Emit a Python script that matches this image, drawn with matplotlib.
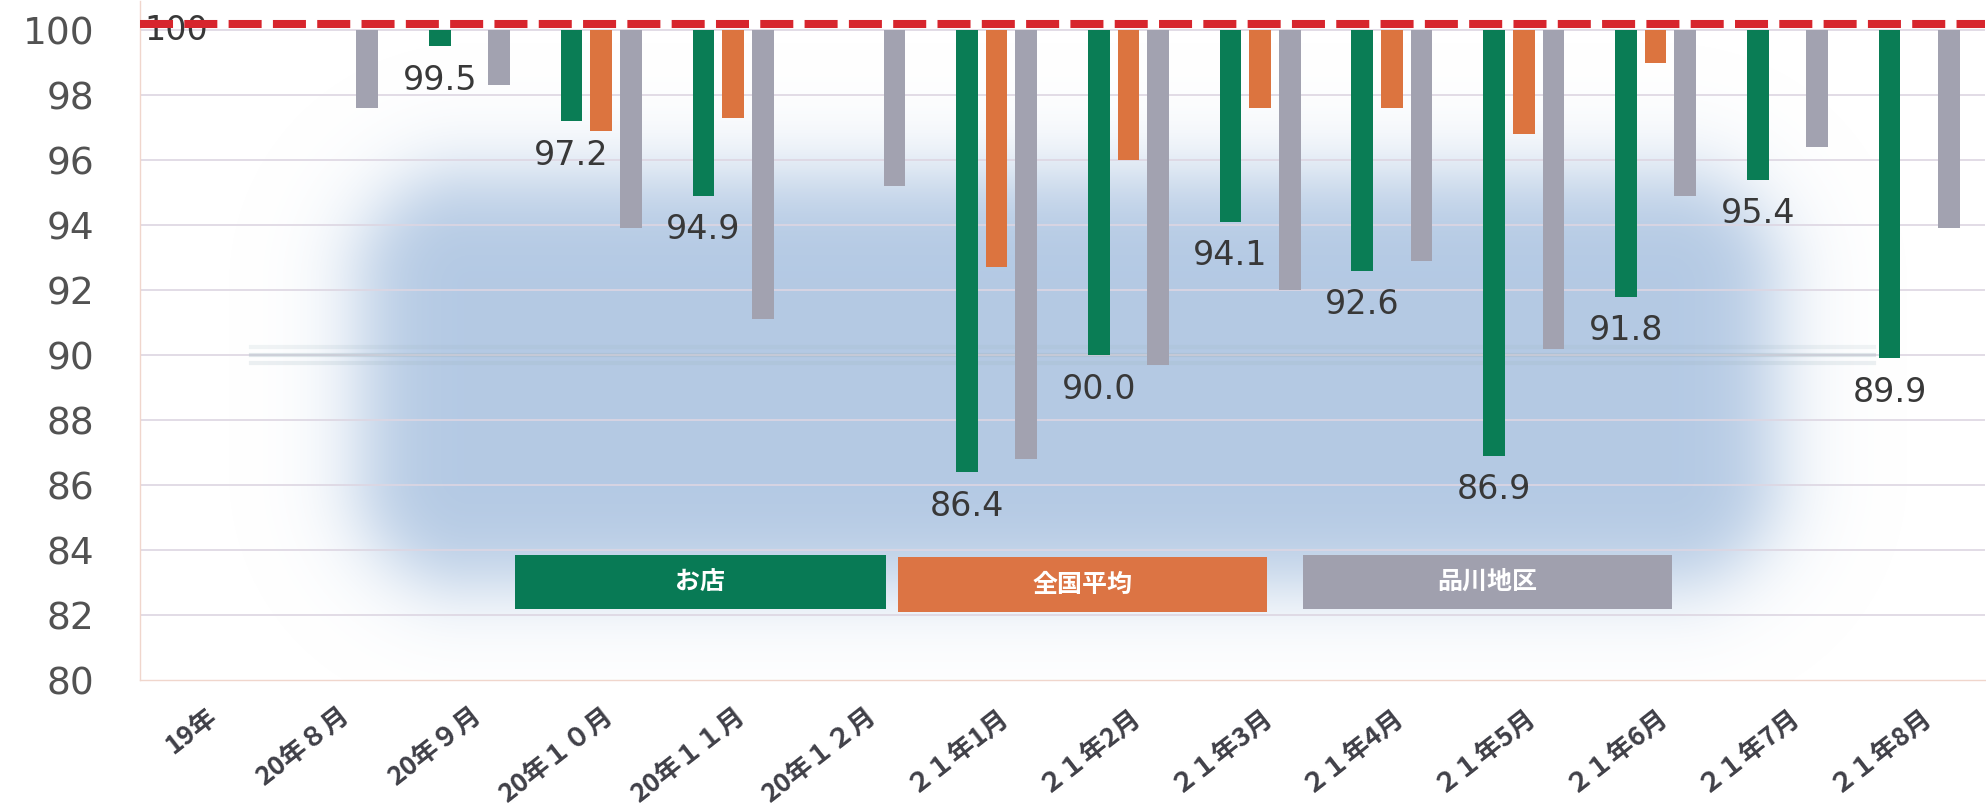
import numpy as np
import matplotlib.pyplot as plt
from matplotlib.patches import Rectangle

# index values, 19年 = 100
categories = ["19年", "20年８月", "20年９月", "20年１０月", "20年１１月", "20年１２月",
              "２１年1月", "２１年2月", "２１年3月", "２１年4月", "２１年5月", "２１年6月",
              "２１年7月", "２１年8月"]
series_names = ["お店", "全国平均", "品川地区"]
shop = [100, np.nan, 99.5, 97.2, 94.9, np.nan, 86.4, 90.0, 94.1, 92.6, 86.9, 91.8, 95.4, 89.9]
national = [np.nan, np.nan, np.nan, 96.9, 97.3, np.nan, 92.7, 96.0, 97.6, 97.6, 96.8, 99.0, np.nan, np.nan]
shinagawa = [np.nan, 97.6, 98.3, 93.9, 91.1, 95.2, 86.8, 89.7, 92.0, 92.9, 90.2, 94.9, 96.4, 93.9]
base = 100

bar_colors = ["#0a7d55", "#dc743f", "#a2a2b0"]
legend_colors = ["#087a55", "#dc7444", "#a0a0ae"]
cjk = ["Noto Sans CJK JP", "DejaVu Sans"]

fig = plt.figure(figsize=(19.86, 8.11), dpi=100)
ax = fig.add_axes([0.0705, 0.1615, 0.929, 0.8375])
ax.set_xlim(-0.5, 13.5)
ax.set_ylim(80, 100.9)

# soft blue glow behind the bars (pixel-space rounded rectangle)
xs = np.linspace(-0.5, 13.5, 1400)
ys = np.linspace(80, 100.9, 520)
X, Y = np.meshgrid(xs, ys)
px = (X + 0.5) * 131.7 + 140
py = 30 + (100 - Y) * 32.5
x0, x1, y0, y1, r = 360, 1775, 175, 585, 110
cx = np.clip(px, x0 + r, x1 - r)
cy = np.clip(py, y0 + r, y1 - r)
d = np.hypot(px - cx, py - cy) - r
alpha = 1 / (1 + np.exp(d / 24))
img = np.zeros(X.shape + (4,))
img[..., 0], img[..., 1], img[..., 2] = 0.69, 0.778, 0.888
img[..., 3] = alpha * 0.95
ax.imshow(img, extent=(-0.5, 13.5, 80, 100.9), origin="lower", aspect="auto",
          interpolation="bilinear", zorder=0)

for yv in range(82, 101, 2):
    ax.axhline(yv, color="#ddd6e2", lw=1.2, zorder=1)
# faint smeared band around 90
for yv, a in [(90.25, 0.15), (90.0, 0.3), (89.75, 0.2)]:
    ax.axhline(yv, color="#9fb5bd", lw=3, alpha=a, xmin=0.06, xmax=0.94, zorder=1.5)

x = np.arange(len(categories))
offsets = [-0.225, 0, 0.225]
for vals, off, col in zip([shop, national, shinagawa], offsets, bar_colors):
    h = np.nan_to_num(np.array(vals, dtype=float) - base)
    ax.bar(x + off, h, bottom=base, width=0.165, color=col, lw=0, zorder=2)

# data labels for お店
for i, v in enumerate(shop):
    if np.isnan(v):
        continue
    txt = "100" if v == base else f"{v:.1f}"
    yy = v - 0.02 if v == base else v - 1.05
    ax.text(i - 0.225, yy, txt, ha="center", va="center", fontsize=24,
            color="#383838", family="DejaVu Sans", zorder=4)

# reference line
ax.axhline(100.18, color="#d7252d", lw=5.8, dashes=(4.1, 1.4), zorder=5)

# legend boxes
boxes = [(2.347, 82.18, 2.81, 1.67), (5.255, 82.09, 2.80, 1.69), (8.323, 82.18, 2.80, 1.67)]
for (bx, by, bw, bh), name, col in zip(boxes, series_names, legend_colors):
    ax.add_patch(Rectangle((bx, by), bw, bh, facecolor=col, edgecolor="none", zorder=6))
    ax.text(bx + bw / 2, by + bh / 2, name, ha="center", va="center", color="white",
            fontsize=18, fontweight="bold", family=cjk, zorder=7)

ax.set_yticks(range(80, 101, 2))
ax.tick_params(axis="y", length=0, pad=33, labelsize=27, labelcolor="#525252")
ax.set_xticks(x)
ax.set_xticklabels(categories, rotation=38, ha="right", rotation_mode="anchor",
                   fontsize=19, fontweight="bold", color="#404048", family=cjk)
ax.tick_params(axis="x", length=0, pad=16)

for s in ["top", "right"]:
    ax.spines[s].set_visible(False)
for s in ["left", "bottom"]:
    ax.spines[s].set_color("#f0d6cc")
    ax.spines[s].set_linewidth(1)

fig.savefig("out.png", dpi=100)
